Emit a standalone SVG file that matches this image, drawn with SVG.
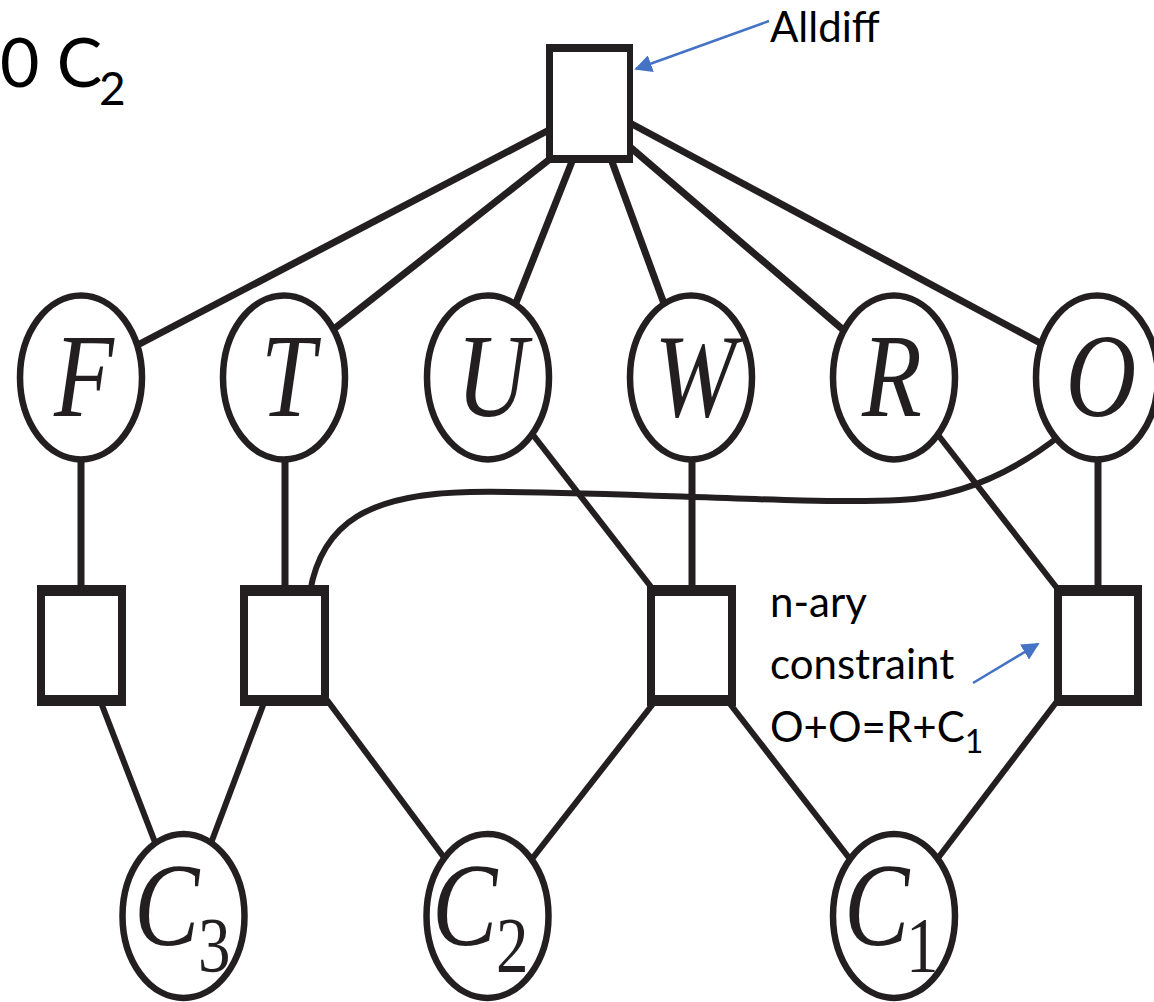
<svg xmlns="http://www.w3.org/2000/svg" width="1154" height="1002" viewBox="0 0 1154 1002">
  <style>
    .edge { stroke: #231f20; stroke-width: 7; fill: none; stroke-linecap: butt; }
    .edge.thin { stroke-width: 6; }
    .var { fill: #ffffff; stroke: #231f20; stroke-width: 6.5; }
    .box-out { fill: #231f20; }
    .box-in { fill: #ffffff; }
    .lbl { font-family: "Liberation Serif", "Times New Roman", serif; font-style: italic; font-size: 98px; fill: #231f20; }
    .sub { font-family: "Liberation Serif", "Times New Roman", serif; font-size: 65px; fill: #231f20; }
    .note { font-family: Lato, "Open Sans", "Liberation Sans", sans-serif; font-size: 42px; fill: #000000; }
    .pointer { stroke: #4472c4; stroke-width: 2.5; fill: none; }
  </style>
  <defs>
    <marker id="head" viewBox="0 0 10 10" refX="9" refY="5" markerWidth="7" markerHeight="7" orient="auto" markerUnits="strokeWidth">
      <path d="M0,0 L10,5 L0,10 Z" fill="#4472c4"/>
    </marker>
  </defs>

  <rect width="1154" height="1002" fill="#ffffff"/>

  <!-- connectors -->
  <g id="connectors">
    <line class="edge" x1="549" y1="130" x2="130" y2="349"/>
    <line class="edge" x1="555" y1="155" x2="325" y2="336"/>
    <line class="edge" x1="573" y1="159" x2="510" y2="318"/>
    <line class="edge" x1="611" y1="159" x2="670" y2="320"/>
    <line class="edge" x1="630" y1="147" x2="855" y2="340"/>
    <line class="edge" x1="630" y1="123" x2="1055" y2="351"/>

    <line class="edge" x1="81" y1="455" x2="81" y2="592"/>
    <line class="edge" x1="285" y1="455" x2="285" y2="592"/>
    <line class="edge" x1="692" y1="455" x2="692" y2="592"/>
    <line class="edge" x1="1098" y1="455" x2="1098" y2="592"/>
    <line class="edge thin" x1="530" y1="431" x2="655" y2="592"/>
    <line class="edge thin" x1="935" y1="431" x2="1060" y2="592"/>
    <path class="edge thin" d="M 310 592 C 322 522, 370 494, 470 492 C 600 490, 800 505, 900 500 C 960 497, 1012 474, 1062 434"/>

    <line class="edge thin" x1="100" y1="700" x2="183.5" y2="916"/>
    <line class="edge thin" x1="265" y1="700" x2="183.5" y2="916"/>
    <line class="edge thin" x1="327" y1="700" x2="487.5" y2="916"/>
    <line class="edge thin" x1="656" y1="700" x2="487.5" y2="916"/>
    <line class="edge thin" x1="727" y1="700" x2="894" y2="916"/>
    <line class="edge thin" x1="1058" y1="700" x2="894" y2="916"/>
  </g>

  <!-- Alldiff constraint -->
  <g id="alldiff">
    <rect class="box-out" x="546" y="44" width="87" height="119"/>
    <rect class="box-in" x="553" y="52" width="74" height="103"/>
  </g>

  <!-- variables -->
  <g id="var-F">
    <ellipse class="var" cx="81" cy="377.5" rx="61" ry="82"/>
    <text class="lbl" text-anchor="middle" transform="translate(84,416) scale(1,1.22)">F</text>
  </g>
  <g id="var-T">
    <ellipse class="var" cx="284" cy="377.5" rx="61" ry="82"/>
    <text class="lbl" text-anchor="middle" transform="translate(288,416) scale(1,1.22)">T</text>
  </g>
  <g id="var-U">
    <ellipse class="var" cx="488" cy="377.5" rx="61" ry="82"/>
    <text class="lbl" text-anchor="middle" transform="translate(492,416) scale(1,1.22)">U</text>
  </g>
  <g id="var-W">
    <ellipse class="var" cx="691" cy="377.5" rx="61" ry="82"/>
    <text class="lbl" text-anchor="middle" transform="translate(695,416) scale(1,1.22)">W</text>
  </g>
  <g id="var-R">
    <ellipse class="var" cx="894" cy="377.5" rx="61" ry="82"/>
    <text class="lbl" text-anchor="middle" transform="translate(892,416) scale(1,1.22)">R</text>
  </g>
  <g id="var-O">
    <ellipse class="var" cx="1097" cy="377.5" rx="61" ry="82"/>
    <text class="lbl" text-anchor="middle" transform="translate(1101,416) scale(1,1.22)">O</text>
  </g>

  <!-- column constraints -->
  <g id="con-F">
    <rect class="box-out" x="37" y="585" width="89" height="121"/>
    <rect class="box-in" x="45" y="596" width="73" height="99"/>
  </g>
  <g id="con-T">
    <rect class="box-out" x="240" y="585" width="89" height="121"/>
    <rect class="box-in" x="248" y="596" width="73" height="99"/>
  </g>
  <g id="con-W">
    <rect class="box-out" x="647" y="585" width="89" height="121"/>
    <rect class="box-in" x="655" y="596" width="73" height="99"/>
  </g>
  <g id="con-O">
    <rect class="box-out" x="1054" y="585" width="88" height="121"/>
    <rect class="box-in" x="1062" y="596" width="72" height="99"/>
  </g>

  <!-- carry variables -->
  <g id="var-C3">
    <ellipse class="var" cx="183.5" cy="916" rx="61" ry="82"/>
    <text class="lbl" transform="translate(0,945) scale(1,1.22)" x="134">C</text>
    <text class="sub" transform="translate(0,971) scale(1,1.22)" x="198">3</text>
  </g>
  <g id="var-C2">
    <ellipse class="var" cx="487.5" cy="916" rx="61" ry="82"/>
    <text class="lbl" transform="translate(0,945) scale(1,1.22)" x="432">C</text>
    <text class="sub" transform="translate(0,971) scale(1,1.22)" x="496">2</text>
  </g>
  <g id="var-C1">
    <ellipse class="var" cx="894" cy="916" rx="61" ry="82"/>
    <text class="lbl" transform="translate(0,945) scale(1,1.22)" x="844">C</text>
    <text class="sub" transform="translate(0,971) scale(1,1.22)" x="906">1</text>
  </g>

  <!-- annotations -->
  <g id="annotations">
    <text class="note" x="0" y="87" style="font-size:68px">0 C</text>
    <text class="note" x="99" y="105" style="font-size:46px">2</text>

    <text class="note" x="770" y="42">Alldiff</text>
    <line class="pointer" x1="769" y1="21" x2="636" y2="69" marker-end="url(#head)"/>

    <text class="note" x="770" y="617">n-ary</text>
    <text class="note" x="770" y="679">constraint</text>
    <text class="note" x="770" y="742">O+O=R+C<tspan font-size="32" dy="11">1</tspan></text>
    <line class="pointer" x1="973" y1="683" x2="1038" y2="644" marker-end="url(#head)"/>
  </g>
</svg>
